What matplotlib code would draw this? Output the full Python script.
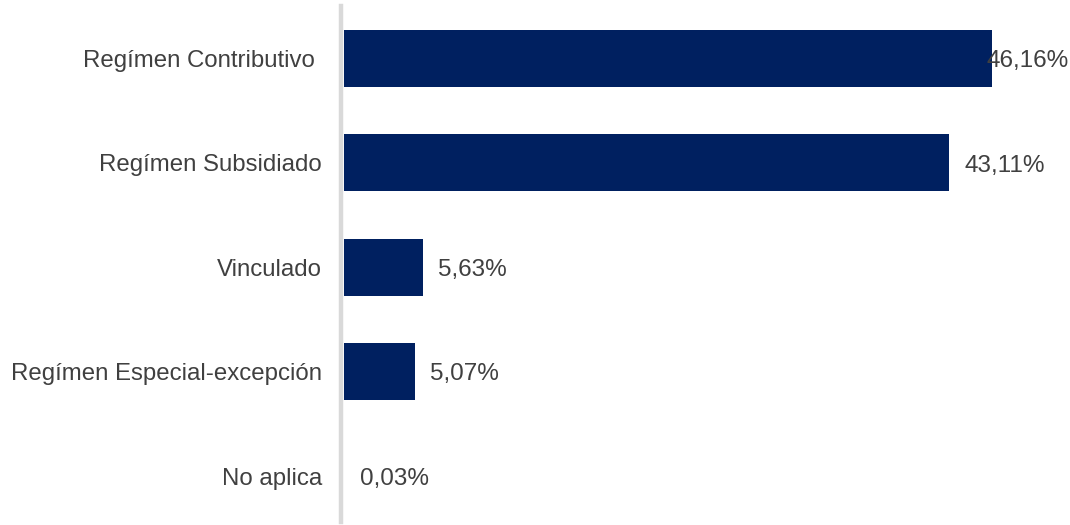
import matplotlib.pyplot as plt

# afiliacion por regimen
categorias = ['Regímen Contributivo ', 'Regímen Subsidiado', 'Vinculado',
              'Regímen Especial-excepción', 'No aplica']
valores = [46.16, 43.11, 5.63, 5.07, 0.03]
etiquetas = ['46,16%', '43,11%', '5,63%', '5,07%', '0,03%']

plt.rcParams['font.family'] = ['Liberation Sans', 'DejaVu Sans']

fig = plt.figure(figsize=(10.7, 5.25), dpi=100)
ax = fig.add_axes([344 / 1070, 1 - 522 / 525, 702 / 1070, 516 / 525])

pos = list(range(len(categorias)))
ax.barh(pos, valores, height=0.545, color='#002060')

ax.set_xlim(0, 50)
ax.set_ylim(4.44, -0.503)

# etiquetas de valor (la primera queda recortada por el borde, como en el original)
for y, v, t in zip(pos, valores, etiquetas):
    x = min(v, 44.66)
    ax.annotate(t, (x, y), xytext=(11, -2), textcoords='offset points',
                va='center', ha='left', fontsize=17.5, color='#404040')

ax.set_yticks(pos)
ax.set_yticklabels(categorias)
ax.tick_params(axis='y', length=0, pad=14, labelsize=17.3, labelcolor='#404040')
ax.set_xticks([])

for s in ['top', 'right', 'bottom']:
    ax.spines[s].set_visible(False)
ax.spines['left'].set_color('#d9d9d9')
ax.spines['left'].set_linewidth(3.2)
ax.spines['left'].set_position(('outward', 2))

fig.savefig('out.png', dpi=100)
